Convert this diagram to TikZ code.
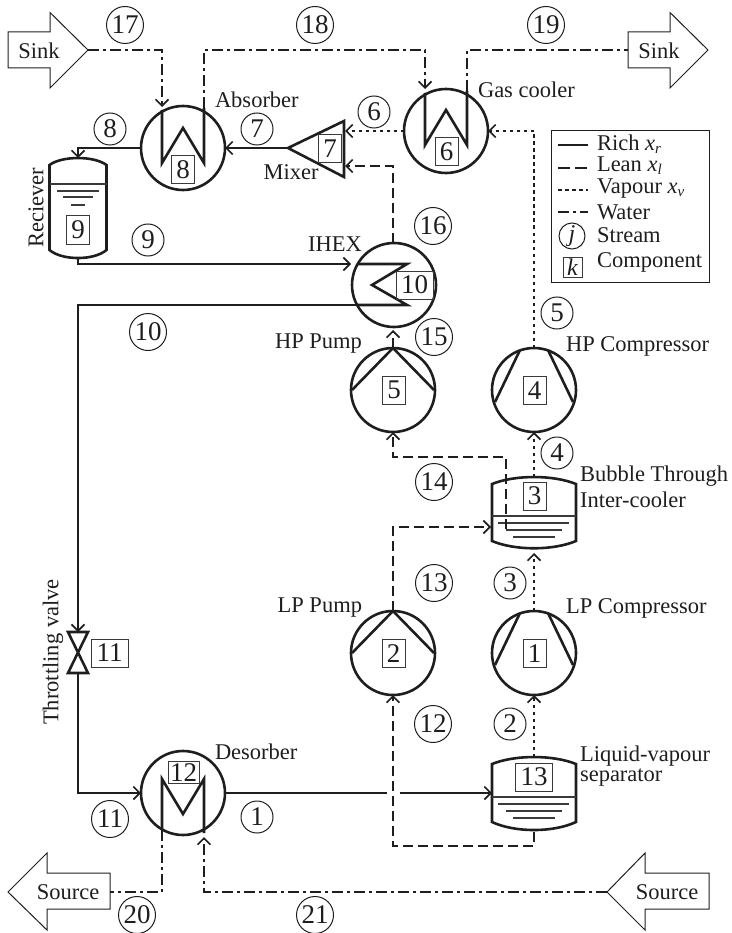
\documentclass[tikz,border=0pt]{standalone}
\usepackage{fontspec}
\setmainfont{Liberation Serif}
\usetikzlibrary{arrows.meta,calc}
\definecolor{ink}{HTML}{1E1E1E}
\definecolor{thinink}{HTML}{3A3A3A}
\newcommand{\legsub}[1]{\raisebox{-3pt}{\fontsize{15}{15}\selectfont\textit{#1}}}
\tikzset{
  every node/.style={text=ink,inner sep=0pt,outer sep=0pt},
  equip/.style={circle,draw=ink,line width=2.6pt,minimum size=84pt},
  inner/.style={draw=ink,line width=2.6pt,miter limit=10},
  compbox/.style={draw=thinink,line width=1pt,minimum width=23pt,minimum height=28pt,font=\fontsize{27}{27}\selectfont},
  compwide/.style={compbox,minimum width=37pt},
  sc/.style={circle,draw=ink,line width=1pt,minimum size=32pt,font=\fontsize{27}{27}\selectfont},
  scwide/.style={sc,minimum size=37pt},
  lab/.style={font=\fontsize{22.5}{24}\selectfont,anchor=west},
  labc/.style={font=\fontsize{22.5}{24}\selectfont,anchor=center},
  big/.style={draw=ink,line width=1pt,line join=miter},
  tank/.style={draw=ink,line width=2.6pt},
  level/.style={draw=thinink,line width=1.4pt},
  flowtip/.style={-{Straight Barb[length=6.5pt,width=13pt,line width=1.7pt]}},
  rich/.style={draw=ink,line width=2.6pt},
  lean/.style={draw=ink,line width=2.4pt,dash pattern=on 10pt off 5pt},
  vapour/.style={draw=ink,line width=2.4pt,dash pattern=on 3.5pt off 3.5pt},
  water/.style={draw=ink,line width=2.4pt,dash pattern=on 11pt off 4pt on 3pt off 4pt},
}
\begin{document}
\begin{tikzpicture}[x=1pt,y=-1pt]
\useasboundingbox (0,0) rectangle (731,933);

% big arrows
\draw[big] (8,32)--(50,32)--(50,12.5)--(88,50)--(50,88)--(50,68)--(8,68)--cycle;
\draw[big] (628,32)--(670,32)--(670,12.5)--(708,50)--(670,88)--(670,68)--(628,68)--cycle;
\draw[big] (110,873)--(47,873)--(47,853)--(8,892)--(47,930)--(47,909)--(110,909)--cycle;
\draw[big] (709,873)--(645,873)--(645,853)--(607,892)--(645,930)--(645,909)--(709,909)--cycle;
\node[labc] (sinkL) at (39,51) {Sink};
\node[labc] (sinkR) at (659,51) {Sink};
\node[labc] (srcL) at (68,892) {Source};
\node[labc] (srcR) at (667,892) {Source};
\coordinate (sinkLtip) at (88,50);
\coordinate (sinkRbase) at (628,50);
\coordinate (srcLbase) at (110,892);
\coordinate (srcRtip) at (607,892);

% circular equipment
\node[equip] (abs) at (183,148) {};
\node[equip] (gc) at (446,131) {};
\node[equip] (ihex) at (394,285) {};
\node[equip] (hpp) at (393,390) {};
\node[equip] (hpc) at (534,390) {};
\node[equip] (lpp) at (393,653) {};
\node[equip] (lpc) at (534,653) {};
\node[equip] (des) at (183,793) {};

% inner coils
\draw[inner] (162,110)--(162,163)--(183,128)--(204,163)--(204,108);
\draw[inner] (425,93)--(425,145)--(446,110)--(467,145)--(467,91);
\draw[inner] (358,264)--(407,264)--(372,285)--(407,305)--(357,305);
\draw[inner] (162,830)--(162,779)--(183,814)--(204,779)--(204,833);

% pump and compressor blades
\draw[inner] (352,390)--(393,348)--(434,390);
\draw[inner] (352,653)--(393,611)--(434,653);
\draw[inner] (495,402)--(520,350);
\draw[inner] (573,402)--(548,350);
\draw[inner] (495,665)--(520,613);
\draw[inner] (573,665)--(548,613);

% mixer and valve
\draw[inner,line join=miter] (288,148)--(344,121)--(344,177)--cycle;
\coordinate (mixTip) at (288,148);
\coordinate (mixIn1) at (345,131);
\coordinate (mixIn2) at (345,166);
\draw[inner,line join=miter] (68,632)--(88,632)--(68,673)--(88,673)--cycle;
\coordinate (tvTop) at (78,632);
\coordinate (tvBot) at (78,673);

% receiver
\node (recv) at (78,208) [minimum width=57pt,minimum height=100pt] {};
\draw[tank] (49.5,165) .. controls (62,155.7) and (94,155.7) .. (106.5,165) -- (106.5,250)
  .. controls (94,260.7) and (62,260.7) .. (49.5,250) -- cycle;
\draw[level] (49.5,184)--(106.5,184);
\draw[level] (57,191)--(99,191);
\draw[level] (63,197)--(93,197);
\draw[level] (71,205)--(85,205);

% inter-cooler
\node (ic) at (534,512.5) [minimum width=84pt,minimum height=71pt] {};
\draw[tank] (492,484) .. controls (515,474.7) and (553,474.7) .. (576,484) -- (576,541)
  .. controls (553,550.7) and (515,550.7) .. (492,541) -- cycle;
\draw[level] (492,516)--(576,516);
\draw[level] (498,523)--(569,523);
\draw[level] (506,530)--(562,530);
\draw[level] (513,537)--(555,537);

% separator
\node (sep) at (534,793) [minimum width=84pt,minimum height=73pt] {};
\draw[tank] (492,764) .. controls (515,754.7) and (553,754.7) .. (576,764) -- (576,822)
  .. controls (553,832.7) and (515,832.7) .. (492,822) -- cycle;
\draw[level] (492,797)--(576,797);
\draw[level] (498,804)--(569,804);
\draw[level] (506,811)--(562,811);
\draw[level] (513,818)--(555,818);

% component boxes
\node[compbox] (c1) at (534.5,653.5) {1};
\node[compbox] (c2) at (393.5,653.5) {2};
\node[compbox] (c3) at (534.5,496) {3};
\node[compbox] (c4) at (534.5,390.5) {4};
\node[compbox] (c5) at (394,390) {5};
\node[compbox] (c6) at (446.5,152) {6};
\node[compbox] (c7) at (330,149) {7};
\node[compbox] (c8) at (183,169.5) {8};
\node[compbox] (c9) at (78,230) {9};
\node[compwide] (c10) at (414.5,285) {10};
\node[compwide] (c11) at (109.5,653) {11};
\node[compwide,minimum width=31pt,minimum height=22pt] (c12) at (183.5,772.5) {12};
\node[compwide] (c13) at (534,777) {13};

% rich
\coordinate (a1) at (78,148);
\draw[rich,flowtip] (abs.west) -- (a1) -- (recv.north);
\draw[rich,flowtip] (mixTip) -- (abs.east);
\coordinate (a2) at (351,264);
\coordinate (a0) at (78,264);
\draw[rich,flowtip] (recv.south) -- (a0) -- (a2);
\coordinate (a3) at (357,305);
\coordinate (a5) at (78,305);
\draw[rich,flowtip] (a3) -- (a5) -- (tvTop);
\coordinate (a4) at (78,793);
\draw[rich,flowtip] (tvBot) -- (a4) -- (des.west);
\coordinate (gapL) at (387,793);
\coordinate (gapR) at (400,793);
\draw[rich] (des.east) -- (gapL);
\draw[rich,flowtip] (gapR) -- (sep.west);

% lean
\coordinate (ihexOut) at (393,243);
\coordinate (l0) at (393,166);
\coordinate (ihexIn) at (393,330);
\draw[lean,flowtip] (ihexOut) -- (l0) -- (mixIn2);
\draw[lean,flowtip] (hpp.north) -- (ihexIn);
\coordinate (l1) at (393,457);
\coordinate (l2) at (506,457);
\coordinate (l3) at (506,529);
\draw[lean,flowtip] (l3) -- (l2) -- (l1) -- (hpp.south);
\coordinate (l4) at (393,527);
\coordinate (l5) at (491,527);
\draw[lean,flowtip] (lpp.north) -- (l4) -- (l5);
\coordinate (l6) at (534,832);
\coordinate (l7) at (534,846);
\coordinate (l8) at (393,846);
\draw[lean,flowtip] (l6) -- (l7) -- (l8) -- (lpp.south);

% vapour
\draw[vapour,flowtip] (gc.west) -- (mixIn1);
\coordinate (v1) at (534,131);
\draw[vapour,flowtip] (hpc.north) -- (v1) -- (gc.east);
\coordinate (v2) at (534,477);
\draw[vapour,flowtip] (v2) -- (hpc.south);
\coordinate (v3) at (534,553);
\draw[vapour,flowtip] (lpc.north) -- (v3);
\coordinate (v4) at (534,757);
\draw[vapour,flowtip] (v4) -- (lpc.south);

% water
\coordinate (w1) at (162,50);
\coordinate (w2) at (162,107);
\draw[water,flowtip] (sinkLtip) -- (w1) -- (w2);
\coordinate (w3) at (204,108);
\coordinate (w4) at (204,50);
\coordinate (w5) at (425,50);
\coordinate (w6) at (425,89);
\draw[water,flowtip] (w3) -- (w4) -- (w5) -- (w6);
\coordinate (w7) at (467,91);
\coordinate (w8) at (467,50);
\draw[water] (w7) -- (w8) -- (sinkRbase);
\coordinate (w9) at (162,830);
\coordinate (w10) at (162,892);
\draw[water] (w9) -- (w10) -- (srcLbase);
\coordinate (w11) at (204,892);
\coordinate (w12) at (204,837);
\draw[water,flowtip] (srcRtip) -- (w11) -- (w12);

% stream numbers
\node[sc] (s1) at (257,817) {1};
\node[sc] (s2) at (510,724) {2};
\node[sc] (s3) at (510,583) {3};
\node[sc] (s4) at (557,453) {4};
\node[sc] (s5) at (557,313) {5};
\node[sc] (s6) at (374,112) {6};
\node[sc] (s7) at (257,129) {7};
\node[sc] (s8) at (110,129) {8};
\node[sc] (s9) at (148,240) {9};
\node[scwide] (s10) at (148,332) {10};
\node[scwide] (s11) at (110,819) {11};
\node[scwide] (s12) at (433,724) {12};
\node[scwide] (s13) at (434,583) {13};
\node[scwide] (s14) at (434,482) {14};
\node[scwide] (s15) at (434,337) {15};
\node[scwide] (s16) at (433,226) {16};
\node[scwide] (s17) at (125,25) {17};
\node[scwide] (s18) at (315,25) {18};
\node[scwide] (s19) at (546,25) {19};
\node[scwide] (s20) at (137,915) {20};
\node[scwide] (s21) at (315,915) {21};

% labels
\node[lab] (tAbs) at (215,100) {Absorber};
\node[labc] (tMix) at (291,172) {Mixer};
\node[lab] (tGc) at (478,90) {Gas cooler};
\node[labc,rotate=90] (tRec) at (36,208) {Reciever};
\node[labc] (tIhex) at (335,244) {IHEX};
\node[lab,anchor=east] (tHpp) at (362,344) {HP Pump};
\node[lab] (tHpc) at (566,346) {HP Compressor};
\node[lab] (tBub) at (580,476) {Bubble Through};
\node[lab] (tInt) at (580,500) {Inter-cooler};
\node[lab] (tLpc) at (566,608) {LP Compressor};
\node[lab,anchor=east] (tLpp) at (362,608) {LP Pump};
\node[labc,rotate=90] (tThr) at (53,652) {Throttling valve};
\node[lab] (tDes) at (215,752) {Desorber};
\node[lab] (tLiq) at (580,756) {Liquid-vapour};
\node[lab] (tSep) at (580,778) {separator};

% legend
\node[draw=ink,line width=1pt,minimum width=158pt,minimum height=151pt] (leg) at (630.5,206.5) {};
\coordinate (k1a) at (558,145); \coordinate (k1b) at (588,145);
\coordinate (k2a) at (558,168); \coordinate (k2b) at (588,168);
\coordinate (k3a) at (558,190); \coordinate (k3b) at (588,190);
\coordinate (k4a) at (558,212); \coordinate (k4b) at (588,212);
\draw[rich] (k1a) -- (k1b);
\draw[lean,dash pattern=on 12pt off 5pt] (k2a) -- (k2b);
\draw[vapour] (k3a) -- (k3b);
\draw[water] (k4a) -- (k4b);
\node[lab] (t1) at (597,144) {Rich \textit{x}\legsub{r}};
\node[lab] (t2) at (597,166) {Lean \textit{x}\legsub{l}};
\node[lab] (t3) at (597,189) {Vapour \textit{x}\legsub{v}};
\node[lab] (t4) at (597,212) {Water};
\node[lab] (t5) at (597,235) {Stream};
\node[lab] (t6) at (597,262) {Component};
\node[circle,draw=ink,line width=1pt,minimum size=26pt,font=\fontsize{24}{24}\selectfont\itshape] (kj) at (572,236) {j};
\node[draw=thinink,line width=1pt,minimum width=19pt,minimum height=20pt,font=\fontsize{24}{24}\selectfont\itshape] (kk) at (572.5,267) {k};
\end{tikzpicture}
\end{document}
